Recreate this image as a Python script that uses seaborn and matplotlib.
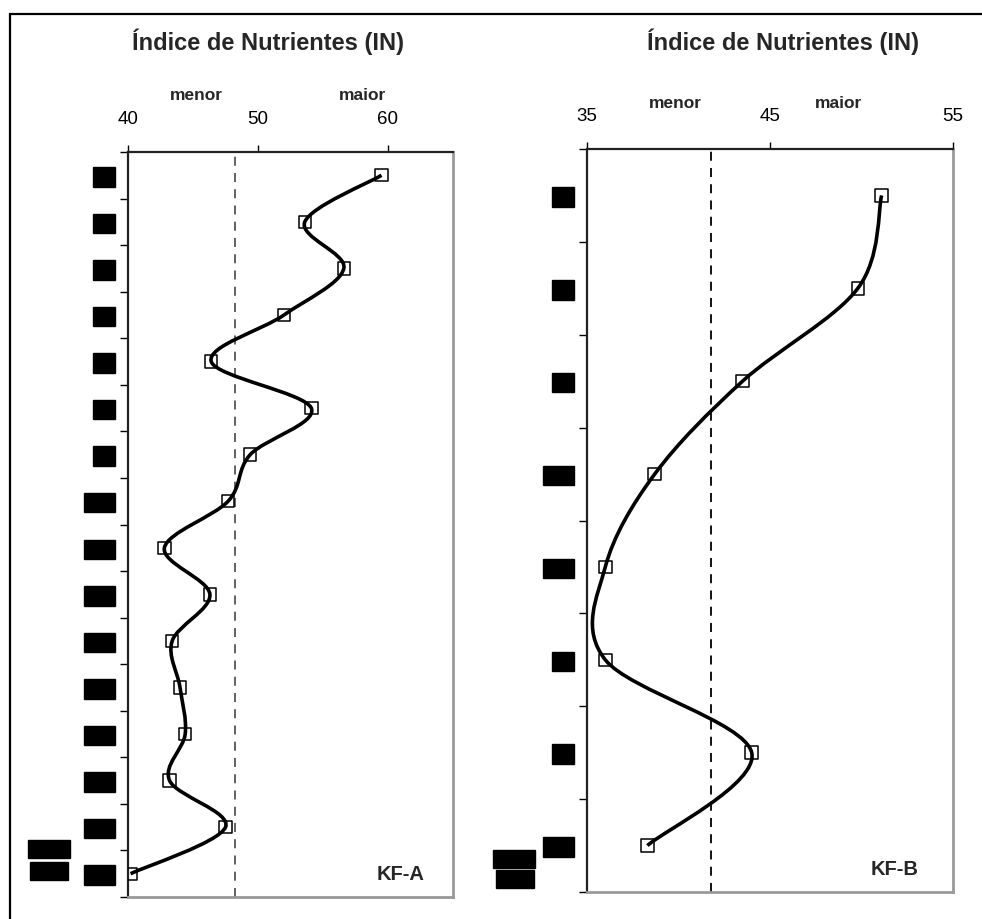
import numpy as np
import pandas as pd
import seaborn as sns
import matplotlib
matplotlib.use("Agg")
import matplotlib.pyplot as plt
from matplotlib.path import Path
from matplotlib.patches import PathPatch, Rectangle

# data (depth labels are hidden in the source)
in_a = [59.5, 53.6, 56.6, 52.0, 46.4, 54.1, 49.4, 47.7,
        42.8, 46.3, 43.4, 44.0, 44.4, 43.2, 47.5, 40.2]
labels_a = ["10", "20", "30", "40", "50", "60", "70", "100",
            "110", "120", "130", "140", "150", "160", "170", "180"]
ref_a = 48.2

in_b = [51.1, 49.8, 43.5, 38.7, 36.0, 36.0, 44.0, 38.3]
labels_b = ["10", "30", "50", "100", "120", "40", "60", "180"]
ref_b = 41.8

sns.set_theme(style="white")
plt.rcParams['font.family'] = ['Liberation Sans', 'DejaVu Sans']


def smooth_path(xs, ys):
    # excel-style smoothed line: catmull-rom turned into bezier segments
    pts = np.column_stack([xs, ys]).astype(float)
    ext = np.vstack([pts[0], pts, pts[-1]])
    verts = [pts[0]]
    codes = [Path.MOVETO]
    for i in range(1, len(ext) - 2):
        p0, p1, p2, p3 = ext[i - 1], ext[i], ext[i + 1], ext[i + 2]
        verts += [p1 + (p2 - p0) / 6, p2 - (p3 - p1) / 6, p2]
        codes += [Path.CURVE4] * 3
    return Path(verts, codes)


def panel(ax, vals, labels, ref, xlim, xticks, ref_color, name):
    n = len(vals)
    df = pd.DataFrame({"IN": vals, "pos": np.arange(n)})
    ax.add_patch(PathPatch(smooth_path(df["IN"], df["pos"]), fill=False,
                           lw=2.6, color="black", zorder=3))
    sns.scatterplot(data=df, x="IN", y="pos", ax=ax, marker="s", s=80,
                    facecolor="none", edgecolor="black", linewidth=1.1,
                    zorder=4, legend=False)
    ax.axvline(ref, color=ref_color, ls=(0, (5, 4)), lw=1.3, zorder=2)

    ax.set_xlim(*xlim)
    ax.set_ylim(n - 0.5, -0.5)
    ax.set_xticks(xticks)
    ax.xaxis.tick_top()
    ax.tick_params(axis="x", direction="out", length=5, width=1, pad=12,
                   labelsize=13.5, colors="black")
    ax.set_yticks(np.arange(n))
    ax.set_yticklabels(labels)
    ax.set_yticks(np.arange(n + 1) - 0.5, minor=True)
    ax.tick_params(axis="y", which="major", length=0, pad=11,
                   labelsize=11.5, labelcolor="black")
    ax.tick_params(axis="y", which="minor", direction="out", length=6,
                   width=1, color="black", left=True)
    for lab in ax.get_yticklabels():
        lab.set_fontweight("bold")
        lab.set_bbox(dict(facecolor="black", edgecolor="black", pad=1.6))
    ax.set_xlabel("")
    ax.set_ylabel("")
    for side in ["left", "top"]:
        ax.spines[side].set_color("#222222")
        ax.spines[side].set_linewidth(1.6)
    for side in ["right", "bottom"]:
        ax.spines[side].set_color("#999999")
        ax.spines[side].set_linewidth(2)

    ax.text(0.84, 0.03, name, transform=ax.transAxes, ha="center",
            va="center", fontsize=14.5, fontweight="bold")


fig = plt.figure(figsize=(9.82, 9.19), dpi=100)
fig.patch.set_facecolor("white")

ax1 = fig.add_axes([128 / 982, 1 - 897 / 919, 325 / 982, 745 / 919])
ax2 = fig.add_axes([587 / 982, 1 - 892 / 919, 366 / 982, 743 / 919])

panel(ax1, in_a, labels_a, ref_a, (40, 65), [40, 50, 60], "#555555", "KF-A")
panel(ax2, in_b, labels_b, ref_b, (35, 55), [35, 45, 55], "black", "KF-B")

# titles and direction words
fig.text(268 / 982, 1 - 42 / 919, "Índice de Nutrientes (IN)", ha="center",
         va="center", fontsize=17, fontweight="bold")
fig.text(783 / 982, 1 - 42 / 919, "Índice de Nutrientes (IN)", ha="center",
         va="center", fontsize=17, fontweight="bold")
for x, y, w in [(196, 95, "menor"), (362, 95, "maior"),
                (675, 104, "menor"), (838, 104, "maior")]:
    fig.text(x / 982, 1 - y / 919, w, ha="center", va="center",
             fontsize=12.5, fontweight="bold")

# hidden axis titles (redacted in the source)
for x, y, w in [(49, 849, "Prof."), (49, 871, "(cm)"),
                (514, 859, "Prof."), (515, 879, "(cm)")]:
    fig.text(x / 982, 1 - y / 919, w, ha="center", va="center",
             fontsize=12, fontweight="bold", color="black",
             bbox=dict(facecolor="black", edgecolor="black", pad=1.2))

# outer frame
fig.patches.append(Rectangle((10 / 982, -0.1), 1.2, 1.1 - 14 / 919,
                             transform=fig.transFigure, fill=False,
                             edgecolor="black", lw=1.6, zorder=0))

fig.savefig("out.png", dpi=100)
